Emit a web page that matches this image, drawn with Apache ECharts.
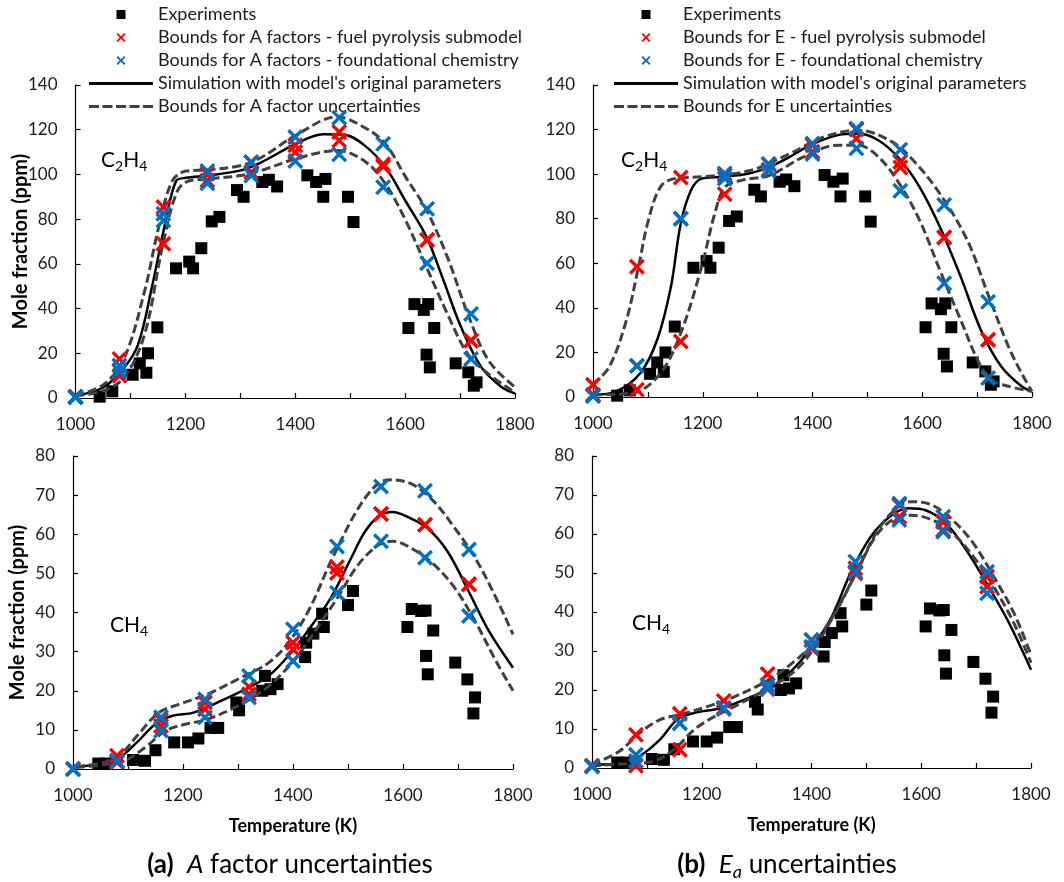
<!DOCTYPE html>
<html><head><meta charset="utf-8">
<script src="https://cdn.jsdelivr.net/npm/echarts@6/dist/echarts.min.js"></script>
<style>html,body{margin:0;padding:0;background:#fff}#c{width:1064px;height:882px}</style>
</head><body><div id="c"></div>
<script>
// ---------- DATA ----------
// Experiments (shared by both columns)
const expC2H4_T = [1044,1067,1104,1117,1129,1132,1149,1183,1207,1214,1229,1248,1262,1294,1306,1340,1352,1367,1422,1438,1451,1455,1496,1506,1606,1617,1634,1642,1639,1645,1653,1692,1715,1730,1725];
const expC2H4_V = [0.6,3,10.4,15.5,11.3,20,31.6,58,61,58,67,79,81,93,90,96.6,97.6,94.6,99.6,96.6,90,98,90,78.7,31.3,42,39.4,42,19.4,13.7,31.3,15.5,11.5,7,5.5];
const expCH4_T = [1046,1062,1109,1131,1150,1184,1209,1228,1250,1264,1297,1302,1349,1344,1359,1372,1422,1424,1437,1453,1456,1500,1509,1608,1616,1633,1641,1642,1645,1655,1695,1717,1731,1728];
const expCH4_V = [1.4,1.4,2.3,2.1,4.8,6.8,6.8,7.8,10.5,10.5,17,15,23.8,20,20.4,21.7,28.6,32.3,34.6,39.7,36.3,41.9,45.5,36.3,40.9,40.4,40.5,28.9,24.2,35.4,27.2,22.9,18.3,14.2];

// Bound simulations (markers), temperatures
const boundT = [1000,1080,1160,1240,1320,1400,1480,1560,1640,1720];
// (a) A factors, C2H4
const redA_C2H4_hi  = [0.6,17.5,85.4,100.3,105.5,113,119,104.5,70.7,25.7];
const redA_C2H4_lo  = [0.6,10,69,97.3,101,110,115.2,103.5,70.7,25.7];
const blueA_C2H4_hi = [0.3,14.5,82.4,101.5,105.5,116.7,125.4,113.7,84.6,37.6];
const blueA_C2H4_lo = [0.3,12,79.4,96,99.5,106,109,94.3,60.3,17.5];
// (b) E, C2H4
const redE_C2H4_hi  = [5.5,58.5,98.5,99.5,104.5,113,120,105.5,71.6,25.7];
const redE_C2H4_lo  = [1,3.3,24.9,91,102,110,116,103,71.6,25.7];
const blueE_C2H4_hi = [0.5,14,80,100.3,104.5,113.7,120.5,111,86.2,42.7];
const blueE_C2H4_lo = [0.5,14,80,98,101.5,109,111.6,92.5,51,8.5];
// (a) A factors, CH4
const redA_CH4_hi  = [0,3.4,12.5,17,21,32.3,51.6,65.2,62.4,47.2];
const redA_CH4_lo  = [0,1.7,11,15.3,19.1,30.6,50.1,65.2,62.4,47.2];
const blueA_CH4_hi = [0,2.1,13.2,17.8,23.8,35.7,56.9,72.2,71.1,56.1];
const blueA_CH4_lo = [0,2.1,9.8,13.2,18.3,27.6,45,58.2,54,39.1];
// (b) E, CH4
const redE_CH4_hi  = [0.6,8.5,13.9,17.2,24.1,32.8,51.2,67.4,63.1,49.1];
const redE_CH4_lo  = [0.6,0.6,4.7,15.1,20.2,30.7,49.9,64.4,61,46.5];
const blueE_CH4_hi = [0.4,3.4,11.5,15.4,21.3,32.8,52.9,67.8,64.4,50.3];
const blueE_CH4_lo = [0.4,1.8,11.5,15.4,20.5,31.1,50.3,63.6,60.6,44.8];

// Simulation curves
const simA_C2H4_T = [1000,1051,1089,1114,1139,1164,1183,1201,1239,1301,1339,1401,1451,1489,1526,1564,1601,1639,1670,1702,1739,1776,1800];
const simA_C2H4_V = [1,4.8,13.7,24,49.5,79,97,98.5,99.5,101.8,105.5,113.7,118,117.8,113,103.3,88,72,52.5,31.6,13.7,4.8,2];
const upA_C2H4_T = [1000,1051,1089,1126,1151,1176,1201,1239,1301,1339,1401,1476,1526,1564,1601,1639,1677,1714,1752,1800];
const upA_C2H4_V = [1,6,18,48,76,97,101.5,102,104,107.7,117.5,125.7,121,113.7,98.8,84,63,37.6,16.7,4.8];
const loA_C2H4_T = [1000,1051,1089,1126,1158,1183,1201,1239,1301,1339,1401,1476,1526,1564,1601,1639,1677,1714,1752,1800];
const loA_C2H4_V = [1,3.3,9.3,28.7,67.5,91.3,96.6,98,99.5,101.8,107,110.7,106,95.8,79.4,58.5,37.6,19.7,10.7,2.5];

const simE_C2H4_T = [1000,1042,1086,1117,1142,1160,1179,1198,1235,1284,1322,1359,1396,1446,1483,1520,1558,1595,1632,1670,1707,1744,1781,1800];
const simE_C2H4_V = [1,2.5,10.7,25.7,49.5,78,93,98,98.8,100.3,103.3,107.8,113,117.5,118.2,115.2,107,94.3,76.4,54,30,13.7,4.8,2.5];
const upE_C2H4_T = [1000,1030,1061,1083,1101,1123,1148,1198,1284,1359,1421,1483,1545,1583,1632,1682,1719,1757,1781,1800];
const upE_C2H4_V = [5.5,13.7,34.6,58.5,79.4,94.3,98,98.8,101.5,109.2,116.7,119.7,114.5,106.3,91.3,70.4,46.6,22.7,10.7,2.5];
const loE_C2H4_T = [1000,1073,1123,1160,1198,1222,1241,1272,1322,1384,1446,1483,1520,1558,1595,1632,1670,1707,1732,1757,1800];
const loE_C2H4_V = [1,1.8,10.7,28.7,58.5,82.4,94.3,97.3,99.5,107.8,113,113,107.8,95.8,79.4,57,34.6,13.7,7,4.8,2.5];

const simA_CH4_T = [1005,1056,1081,1119,1150,1181,1219,1269,1319,1356,1394,1431,1469,1506,1531,1556,1581,1606,1644,1681,1719,1756,1800];
const simA_CH4_V = [0.6,1.4,2.5,7.2,11.5,13.6,14.4,17.4,20.8,23.8,29.3,36.1,43.8,54,60.7,64.6,65.7,64.6,61.6,55.6,45.5,35.3,25.9];
const upA_CH4_T = [1005,1056,1087,1119,1156,1194,1244,1306,1356,1394,1431,1469,1519,1556,1581,1619,1656,1694,1731,1769,1800];
const upA_CH4_V = [0.6,1.7,3.8,8.9,14.4,16.6,19.1,23.4,27.2,32.7,41.2,53.1,66.7,73.1,73.9,72.6,68.4,61.6,54,43.8,34.4];
const loA_CH4_T = [1005,1056,1094,1131,1169,1206,1244,1306,1356,1406,1444,1481,1519,1556,1581,1619,1656,1694,1731,1769,1800];
const loA_CH4_V = [0.4,1.1,2.1,5.5,9.8,11.5,12.7,16.6,21.2,28.5,36.1,43.8,52.3,57.3,58.2,56.1,52.3,46.3,37.8,27.6,20];

const simE_CH4_T = [1000,1062,1087,1124,1155,1186,1236,1285,1335,1360,1397,1434,1471,1508,1546,1577,1608,1645,1682,1719,1757,1800];
const simE_CH4_V = [0.9,1.3,3,7.3,12.4,14.1,15.4,17.9,21.3,24.3,30.3,38,49.9,59.3,64.8,66.6,66.1,62.7,55.9,47.4,38,25.2];
const upE_CH4_T = [1000,1050,1087,1124,1161,1211,1260,1322,1372,1409,1446,1484,1521,1558,1583,1620,1657,1695,1732,1769,1800];
const upE_CH4_V = [0.9,4.3,9,12.4,13.7,15.8,18.3,22.6,27.7,32.8,40.5,50.8,61,67,68.3,67.4,63.6,57.6,49.1,39.7,29];
const loE_CH4_T = [1000,1062,1112,1149,1186,1223,1260,1322,1372,1409,1446,1484,1521,1558,1583,1620,1657,1695,1732,1769,1800];
const loE_CH4_V = [0.6,1.1,1.7,4.7,9.8,13.2,15.8,20.5,25.2,31.6,40.5,50.8,60.2,64.4,64.8,63.6,60.2,54.2,46.5,37.1,27];

// Tick values
const xTicks = [1000,1200,1400,1600,1800];
const yMaxTop = 140, yStepTop = 20, yMaxBot = 80, yStepBot = 10;

// Legend names
const nExp = 'Experiments';
const nRedA = 'Bounds for A factors - fuel pyrolysis submodel';
const nBlueA = 'Bounds for A factors - foundational chemistry';
const nSim = "Simulation with model's original parameters";
const nDashA = 'Bounds for A factor uncertainties';
const nRedE = 'Bounds for E - fuel pyrolysis submodel';
const nBlueE = 'Bounds for E - foundational chemistry';
const nDashE = 'Bounds for E uncertainties';

// ---------- CHART ----------
const FONT = 'Lato';
const SQ = 'path://M0,0H10V10H0Z';
const XS = 'path://M0,1.5L1.5,0L5,3.5L8.5,0L10,1.5L6.5,5L10,8.5L8.5,10L5,6.5L1.5,10L0,8.5L3.5,5Z';
const SOLID_ICON = 'path://M0,0H64V3H0Z';
const DASH_ICON = 'path://M0,0H10V3H0Z M13.5,0H23.5V3H13.5Z M27,0H37V3H27Z M40.5,0H50.5V3H40.5Z M54,0H64V3H54Z';

const pairs = (xs, ys) => xs.map((x, i) => [x, ys[i]]);

const grids = [
  {left: 75.5, top: 85, width: 439.5, height: 313},
  {left: 593, top: 85, width: 439, height: 312},
  {left: 73, top: 456, width: 440, height: 313},
  {left: 592, top: 456, width: 439, height: 312}
];

function xAxis(i, named) {
  return {
    type: 'value', gridIndex: i, min: 1000, max: 1800, interval: 100,
    axisLine: {show: true, lineStyle: {color: '#000', width: 1.2}},
    axisTick: {show: true, inside: true, length: 5, lineStyle: {color: '#000', width: 1.2}},
    axisLabel: {margin: 18, fontSize: 17, fontFamily: FONT, color: '#1a1a1a',
      formatter: v => xTicks.indexOf(v) >= 0 ? String(v) : ''},
    splitLine: {show: false},
    name: named ? 'Temperature (K)' : '',
    nameLocation: 'middle', nameGap: 48, nameMoveOverlap: false,
    nameTextStyle: {fontSize: 18, fontWeight: 'bold', fontFamily: FONT, color: '#000'}
  };
}
function yAxis(i, max, step, named) {
  return {
    type: 'value', gridIndex: i, min: 0, max: max, interval: step,
    axisLine: {show: true, lineStyle: {color: '#000', width: 1.2}},
    axisTick: {show: true, inside: true, length: 5, lineStyle: {color: '#000', width: 1.2}},
    axisLabel: {margin: 18, fontSize: 17, fontFamily: FONT, color: '#1a1a1a'},
    splitLine: {show: false},
    name: named ? 'Mole fraction (ppm)' : '',
    nameLocation: 'middle', nameGap: 45, nameMoveOverlap: false,
    nameTextStyle: {fontSize: 20, fontWeight: 'bold', fontFamily: FONT, color: '#000'}
  };
}

function panel(i, names, expT, expV, redHi, redLo, blueHi, blueLo, simT, simV, upT, upV, loT, loV) {
  const base = {xAxisIndex: i, yAxisIndex: i};
  const dash = {color: '#404040', width: 3, type: [9, 4], cap: 'butt'};
  return [
    Object.assign({type: 'line', name: names.sim, data: pairs(simT, simV), smooth: 0.35, symbol: 'none',
      lineStyle: {color: '#000', width: 2.5}, itemStyle: {color: '#000'}, z: 3}, base),
    Object.assign({type: 'line', name: names.dash, data: pairs(upT, upV), smooth: 0.35, symbol: 'none',
      lineStyle: dash, itemStyle: {color: '#404040'}, z: 3}, base),
    Object.assign({type: 'line', name: names.dash, data: pairs(loT, loV), smooth: 0.35, symbol: 'none',
      lineStyle: dash, itemStyle: {color: '#404040'}, z: 3}, base),
    Object.assign({type: 'scatter', name: nExp, data: pairs(expT, expV), symbol: SQ, symbolSize: 12,
      itemStyle: {color: '#000', opacity: 1}, z: 2}, base),
    Object.assign({type: 'scatter', name: names.red, data: pairs(boundT, redHi).concat(pairs(boundT, redLo)),
      symbol: XS, symbolSize: 16, itemStyle: {color: '#FF0000', opacity: 1}, z: 4}, base),
    Object.assign({type: 'scatter', name: names.blue, data: pairs(boundT, blueHi).concat(pairs(boundT, blueLo)),
      symbol: XS, symbolSize: 16, itemStyle: {color: '#0070C0', opacity: 1}, z: 5}, base)
  ];
}

const namesA = {sim: nSim, dash: nDashA, red: nRedA, blue: nBlueA};
const namesE = {sim: nSim, dash: nDashE, red: nRedE, blue: nBlueE};

const series = [].concat(
  panel(0, namesA, expC2H4_T, expC2H4_V, redA_C2H4_hi, redA_C2H4_lo, blueA_C2H4_hi, blueA_C2H4_lo,
        simA_C2H4_T, simA_C2H4_V, upA_C2H4_T, upA_C2H4_V, loA_C2H4_T, loA_C2H4_V),
  panel(1, namesE, expC2H4_T, expC2H4_V, redE_C2H4_hi, redE_C2H4_lo, blueE_C2H4_hi, blueE_C2H4_lo,
        simE_C2H4_T, simE_C2H4_V, upE_C2H4_T, upE_C2H4_V, loE_C2H4_T, loE_C2H4_V),
  panel(2, namesA, expCH4_T, expCH4_V, redA_CH4_hi, redA_CH4_lo, blueA_CH4_hi, blueA_CH4_lo,
        simA_CH4_T, simA_CH4_V, upA_CH4_T, upA_CH4_V, loA_CH4_T, loA_CH4_V),
  panel(3, namesE, expCH4_T, expCH4_V, redE_CH4_hi, redE_CH4_lo, blueE_CH4_hi, blueE_CH4_lo,
        simE_CH4_T, simE_CH4_V, upE_CH4_T, upE_CH4_V, loE_CH4_T, loE_CH4_V)
);

function legend(left, red, blue, dashName) {
  return {
    orient: 'vertical', left: left, top: 5.5, padding: 0, itemWidth: 64, itemHeight: 9, itemGap: 5,
    selectedMode: false, symbolKeepAspect: true,
    itemStyle: {borderWidth: 0},
    textStyle: {fontSize: 18, fontFamily: FONT, color: '#1a1a1a'},
    data: [
      {name: nExp, icon: SQ},
      {name: red, icon: XS},
      {name: blue, icon: XS},
      {name: nSim, icon: SOLID_ICON},
      {name: dashName, icon: DASH_ICON}
    ]
  };
}

const chemRich = {
  m: {fontSize: 21, fontFamily: FONT, color: '#000', lineHeight: 27},
  s: {fontSize: 14, fontFamily: FONT, color: '#000', verticalAlign: 'bottom'}
};
function chemLabel(x, y, txt) {
  return {type: 'text', x: x, y: y, style: {text: txt, rich: chemRich, align: 'left', verticalAlign: 'middle'}, z: 10};
}
const capRich = {
  b: {fontSize: 26, fontFamily: FONT, fontWeight: 'bold', color: '#000'},
  i: {fontSize: 26, fontFamily: FONT, fontStyle: 'italic', color: '#000'},
  is: {fontSize: 18, fontFamily: FONT, fontStyle: 'italic', color: '#000', verticalAlign: 'bottom'},
  r: {fontSize: 26, fontFamily: FONT, color: '#000', lineHeight: 33}
};

const option = {
  animation: false,
  backgroundColor: '#fff',
  grid: grids,
  xAxis: [xAxis(0, false), xAxis(1, false), xAxis(2, true), xAxis(3, true)],
  yAxis: [yAxis(0, yMaxTop, yStepTop, true), yAxis(1, yMaxTop, yStepTop, false),
          yAxis(2, yMaxBot, yStepBot, true), yAxis(3, yMaxBot, yStepBot, false)],
  legend: [legend(89, nRedA, nBlueA, nDashA), legend(614, nRedE, nBlueE, nDashE)],
  series: series,
  graphic: [
    chemLabel(101, 160, '{m|C}{s|2}{m|H}{s|4}'),
    chemLabel(621, 160, '{m|C}{s|2}{m|H}{s|4}'),
    chemLabel(110, 625, '{m|CH}{s|4}'),
    chemLabel(632, 623, '{m|CH}{s|4}'),
    {type: 'text', x: 290, y: 865, z: 10, style: {text: '{b|(a)}{r|  }{i|A}{r| factor uncertainties}', rich: capRich, align: 'center', verticalAlign: 'middle'}},
    {type: 'text', x: 787, y: 865, z: 10, style: {text: '{b|(b)}{r|  }{i|E}{is|a}{r| uncertainties}', rich: capRich, align: 'center', verticalAlign: 'middle'}}
  ]
};

const chart = echarts.init(document.getElementById('c'), null, {renderer: 'canvas'});
chart.setOption(option);
</script></body></html>
